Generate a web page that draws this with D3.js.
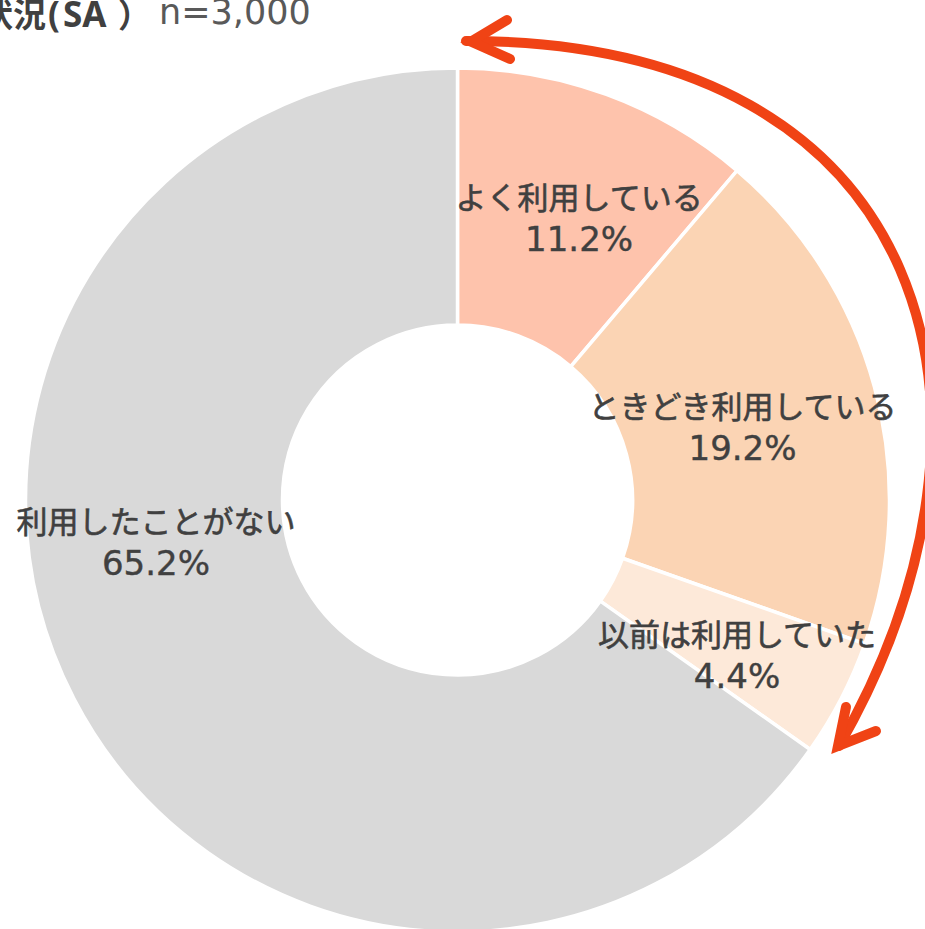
<!DOCTYPE html>
<html>
<head>
<meta charset="utf-8">
<script src="https://cdn.jsdelivr.net/npm/d3@7"></script>
<style>
  html, body { margin: 0; padding: 0; background: #ffffff; }
  svg { display: block; }
</style>
</head>
<body>
<div id="chart"></div>
<script>
// ---- data ----
const categories = ["よく利用している", "ときどき利用している", "以前は利用していた", "利用したことがない"];
const values = [11.2, 19.2, 4.4, 65.2];
const valueLabels = ["11.2%", "19.2%", "4.4%", "65.2%"];
const titleParts = ["利用状況", "(", "SA", "）"];
const titleSample = "n=3,000";

// ---- style / layout ----
const sliceColors = ["#FEC3AC", "#FBD4B4", "#FDE9D9", "#D9D9D9"];
const labelOffsets = [[17, 2], [-8, 6], [10, 15], [-32, -98]];
const arrowColor = "#F04315";
// annotation arrow (decoration, not data): one cubic curve + two open heads
const arrowCurve = { p0: [466, 41], p1: [936, 41], p2: [1029, 415], p3: [839, 746] };
const headTop = [[507, 20], [471, 41.5], [510, 59]];
const headBottom = [[846, 707], [838, 746], [876, 731]];

const W = 925, H = 929;
const cx = 457.5, cy = 500;
const outerR = 432, innerR = 175;

const svg = d3.select("#chart").append("svg")
  .attr("width", W).attr("height", H)
  .attr("viewBox", `0 0 ${W} ${H}`);

const g = svg.append("g").attr("transform", `translate(${cx},${cy})`);

const pie = d3.pie().sort(null).value(d => d);
const arcs = pie(values);
const arc = d3.arc().innerRadius(innerR).outerRadius(outerR);

g.selectAll("path.slice")
  .data(arcs)
  .join("path")
  .attr("class", "slice")
  .attr("d", arc)
  .attr("fill", (d, i) => sliceColors[i])
  .attr("stroke", "#ffffff")
  .attr("stroke-width", 3.5)
  .attr("stroke-linejoin", "miter");

const labels = g.selectAll("g.label")
  .data(arcs)
  .join("g")
  .attr("class", "label")
  .attr("transform", (d, i) => {
    const c = arc.centroid(d);
    return `translate(${c[0] + labelOffsets[i][0]},${c[1] + labelOffsets[i][1]})`;
  });

labels.append("text")
  .attr("text-anchor", "middle")
  .attr("y", -8.5)
  .attr("fill", "#404040")
  .attr("stroke", "#404040")
  .attr("stroke-width", 0.6)
  .style("font-family", "'Noto Sans CJK JP', sans-serif")
  .style("font-size", "31px")
  .text((d, i) => categories[i]);

labels.append("text")
  .attr("text-anchor", "middle")
  .attr("y", 33.5)
  .attr("fill", "#404040")
  .attr("stroke", "#404040")
  .attr("stroke-width", 0.4)
  .style("font-family", "'DejaVu Sans', sans-serif")
  .style("font-size", "34px")
  .text((d, i) => valueLabels[i]);

// ---- title ----
const titleX = [-86, 48, 63, 118];
const titleSize = [33, 35, 35, 33];
const title = svg.append("text")
  .attr("y", 27)
  .attr("fill", "#404040")
  .style("font-family", "'Noto Sans', 'Noto Sans CJK JP', sans-serif")
  .style("font-weight", 700);
title.selectAll("tspan")
  .data(titleParts)
  .join("tspan")
  .attr("x", (d, i) => titleX[i])
  .style("font-size", (d, i) => titleSize[i] + "px")
  .text(d => d);

svg.append("text")
  .attr("x", 159).attr("y", 24)
  .attr("fill", "#595959")
  .style("font-family", "'DejaVu Sans', sans-serif")
  .style("font-size", "35px")
  .text(titleSample);

// ---- arrow annotation ----
const arrowG = svg.append("g")
  .attr("fill", "none")
  .attr("stroke", arrowColor)
  .attr("stroke-width", 10);
const pth = d3.path();
pth.moveTo(...arrowCurve.p0);
pth.bezierCurveTo(...arrowCurve.p1, ...arrowCurve.p2, ...arrowCurve.p3);
arrowG.append("path").attr("d", pth.toString()).attr("stroke-linecap", "round");
[headTop, headBottom].forEach(h => {
  arrowG.append("path")
    .attr("d", d3.line()(h))
    .attr("stroke-linejoin", "miter")
    .attr("stroke-miterlimit", 6)
    .attr("stroke-linecap", "round");
});
</script>
</body>
</html>
